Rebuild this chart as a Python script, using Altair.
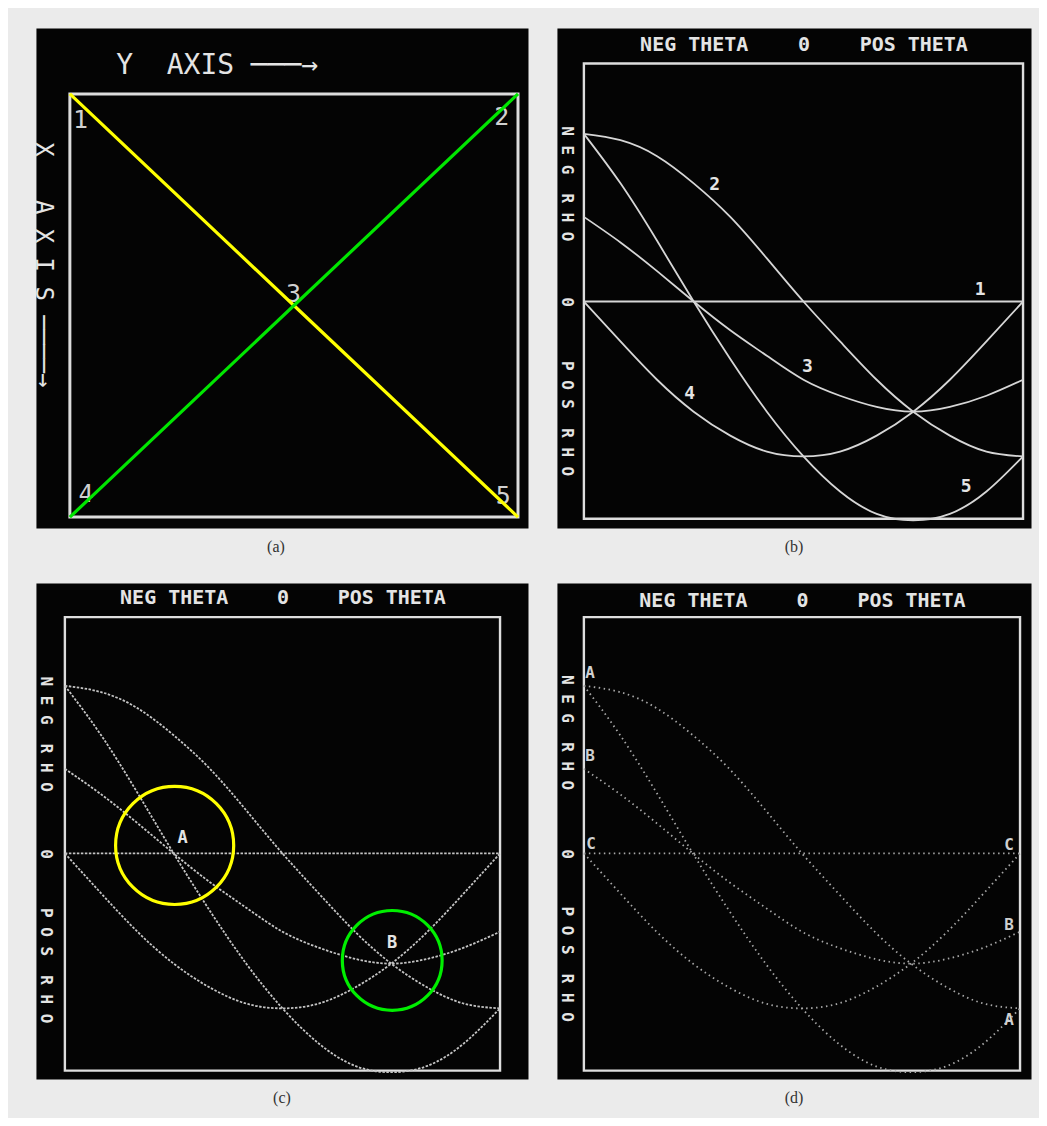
import altair as alt
import pandas as pd

# ---------------- data ----------------
# Hough-space curves (panels b, c, d): theta in degrees, rho in figure units
theta = [-90, -75, -60, -45, -30, -15, 0, 15, 30, 45, 60, 75, 90]
rho_1 = [0, 0, 0, 0, 0, 0, 0, 0, 0, 0, 0, 0, 0]
rho_2 = [-105, -101, -91, -74, -53, -27, 0, 25, 49, 69, 84, 94, 97]
rho_3 = [-53, -37, -19, 0, 18, 34, 49, 59, 66, 69, 66, 59, 49]
rho_4 = [0, 25, 49, 69, 84, 94, 97, 94, 84, 69, 49, 25, 0]
rho_5 = [-105, -74, -38, 0, 36, 69, 97, 119, 133, 137, 133, 119, 97]
curve_names = ["1", "2", "3", "4", "5"]

# Image-space points (panel a): X axis runs down, Y axis runs right
point_names = ["1", "2", "3", "4", "5"]
point_x = [0, 0, 50, 100, 100]
point_y = [0, 100, 50, 0, 100]
point_label_x = [6.1, 5.4, 47.2, 94.6, 95.0]
point_label_y = [2.4, 96.4, 49.9, 3.6, 96.7]
yellow_line = ["1", "3", "5"]
green_line = ["4", "3", "2"]

# Labels of panel b
b_text = ["1", "2", "3", "4", "5"]
b_theta = [72.4, -36.4, 1.6, -46.6, 66.7]
b_rho = [-7.5, -73, 41, 58, 116]

# Labels and highlight circles of panel c
c_text = ["A", "B"]
c_theta = [-41.3, 45.4]
c_rho = [-9.4, 56]
circle_theta = [-44.6, 45.4]
circle_rho = [-5, 67]
circle_color = ["#ffff00", "#00ee00"]
circle_size = [14000, 10000]

# Labels of panel d
d_text = ["A", "B", "C", "C", "B", "A"]
d_theta = [-87.5, -87.5, -87.0, 85.5, 85.5, 85.5]
d_rho = [-113, -61, -6, -5, 45, 104]

# Frames
frame_theta = [-90, 90]
frame_rho_b = [-149, 136]
frame_rho_cd = [-148, 136]
frame_img = [0, 100]

MONO = "DejaVu Sans Mono"
TXT = "#e4e4e4"
BG = "#ebebeb"
NB = "\u00a0"

curves = pd.DataFrame({
    "theta": theta * 5,
    "rho": rho_1 + rho_2 + rho_3 + rho_4 + rho_5,
    "curve": [n for n in curve_names for _ in theta],
})

NEG_RHO = "N E G" + NB * 2 + "R H O"
POS_RHO = "P O S" + NB * 2 + "R H O"


def theta_axis(offset):
    return alt.Axis(
        orient="top", values=[-45, 0, 45],
        labelExpr="datum.value < 0 ? 'NEG THETA' : (datum.value > 0 ? 'POS THETA' : '0')",
        title=None, domain=False, ticks=False, tickSize=0, grid=False,
        labelPadding=0, offset=-offset, labelFont=MONO, labelFontWeight="bold",
        labelFontSize=20, labelColor=TXT, labelAngle=0, labelAlign="center",
        labelBaseline="bottom", labelOverlap=False, labelFlush=False,
    )


def rho_axis(values, offset):
    return alt.Axis(
        orient="left", values=values,
        labelExpr="datum.value < 0 ? '" + NEG_RHO + "' : (datum.value > 0 ? '" + POS_RHO + "' : '0')",
        title=None, domain=False, ticks=False, tickSize=0, grid=False,
        labelPadding=0, offset=-offset, labelFont=MONO, labelFontWeight="bold",
        labelFontSize=16, labelColor=TXT, labelAngle=90, labelAlign="center",
        labelBaseline="middle", labelOverlap=False, labelFlush=False,
    )


def caption(txt, dx=0):
    return alt.TitleParams(txt, orient="bottom", anchor="middle", font="Liberation Serif",
                           fontSize=16, fontWeight="normal", color="#333333", offset=11, dx=dx)


def hough_layers(tdom, rdom, frame_rho, axis_off_top, rho_vals, axis_off_left,
                 line_color, line_width, dash, labels):
    xs = alt.Scale(domain=tdom, nice=False, zero=False)
    ys = alt.Scale(domain=rdom, nice=False, zero=False, reverse=True)
    xa = theta_axis(axis_off_top)
    ya = rho_axis(rho_vals, axis_off_left)

    frame = alt.Chart(pd.DataFrame({"theta": [frame_theta[0]], "theta_end": [frame_theta[1]],
                                    "rho": [frame_rho[0]], "rho_end": [frame_rho[1]]})).mark_rect(
        filled=False, stroke="#dedede", strokeWidth=2.4
    ).encode(
        x=alt.X("theta:Q", scale=xs, axis=xa), x2="theta_end:Q",
        y=alt.Y("rho:Q", scale=ys, axis=ya), y2="rho_end:Q",
    )
    line_kw = dict(interpolate="natural", color=line_color, strokeWidth=line_width)
    if dash:
        line_kw["strokeDash"] = dash
    lines = alt.Chart(curves).mark_line(**line_kw).encode(
        x=alt.X("theta:Q", scale=xs, axis=xa),
        y=alt.Y("rho:Q", scale=ys, axis=ya),
        detail="curve:N",
    )
    layers = [frame, lines]
    for df, kw, enc in labels:
        layers.append(alt.Chart(df).mark_text(**kw).encode(
            x=alt.X("theta:Q", scale=xs, axis=xa),
            y=alt.Y("rho:Q", scale=ys, axis=ya),
            **enc,
        ))
    return layers


# ---------------- panel (a): image space ----------------
xs_a = alt.Scale(domain=[-7.57, 102.23], nice=False, zero=False)
ys_a = alt.Scale(domain=[-15.57, 102.59], nice=False, zero=False, reverse=True)
xa_a = alt.Axis(orient="top", labels=False, ticks=False, domain=False, grid=False,
                title="Y" + NB * 2 + "AXIS" + NB + "───→", titleFont=MONO, titleFontSize=28,
                titleFontWeight="normal",
                titleColor=TXT, titleX=80, titleY=38, titleAlign="left", titleBaseline="middle",
                titleAngle=0, titleAnchor="start")
ya_a = alt.Axis(orient="left", labels=False, ticks=False, domain=False, grid=False,
                title="X" + NB * 3 + "A X I S" + NB + "────→", titleFont=MONO, titleFontSize=24,
                titleFontWeight="normal",
                titleColor=TXT, titleX=7, titleY=114, titleAlign="left", titleBaseline="middle",
                titleAngle=90, titleAnchor="start")

frame_a = alt.Chart(pd.DataFrame({"Y": [frame_img[0]], "Y_end": [frame_img[1]],
                                  "X": [frame_img[0]], "X_end": [frame_img[1]]})).mark_rect(
    filled=False, stroke="#dcdcdc", strokeWidth=3
).encode(
    x=alt.X("Y:Q", scale=xs_a, axis=xa_a), x2="Y_end:Q",
    y=alt.Y("X:Q", scale=ys_a, axis=ya_a), y2="X_end:Q",
)
pts = dict(zip(point_names, zip(point_x, point_y)))
diag = pd.DataFrame({
    "X": [pts[p][0] for p in yellow_line] + [pts[p][0] for p in green_line],
    "Y": [pts[p][1] for p in yellow_line] + [pts[p][1] for p in green_line],
    "line": ["yellow"] * 3 + ["green"] * 3,
    "order": [0, 1, 2, 0, 1, 2],
})
lbl_a = alt.Chart(pd.DataFrame({"X": point_label_x, "Y": point_label_y, "label": point_names})).mark_text(
    font=MONO, fontSize=25, color="#d0d0d0", fontWeight="normal"
).encode(
    x=alt.X("Y:Q", scale=xs_a, axis=xa_a), y=alt.Y("X:Q", scale=ys_a, axis=ya_a), text="label:N"
)
diag_lines = alt.Chart(diag).mark_line(strokeWidth=3.2).encode(
    x=alt.X("Y:Q", scale=xs_a, axis=xa_a), y=alt.Y("X:Q", scale=ys_a, axis=ya_a),
    color=alt.Color("line:N", scale=alt.Scale(domain=["yellow", "green"], range=["#ffff00", "#00e600"]),
                    legend=None),
    order="order:Q",
)
panel_a = alt.layer(frame_a, lbl_a, diag_lines).properties(width=493, height=501, title=caption("(a)", -6))

# ---------------- panel (b) ----------------
lab_b = pd.DataFrame({"theta": b_theta, "rho": b_rho, "label": b_text})
panel_b = alt.layer(*hough_layers(
    [-101.05, 93.27], [-171.25, 141.875], frame_rho_b, 27, [-74, 0, 73], 10,
    "#d6d6d6", 1.8, None,
    [(lab_b, dict(font=MONO, fontWeight="bold", fontSize=18, color=TXT), dict(text="label:N"))],
)).properties(width=475, height=501, title=caption("(b)"))

# ---------------- panel (c) ----------------
lab_c = pd.DataFrame({"theta": c_theta, "rho": c_rho, "label": c_text})
circ_c = pd.DataFrame({"theta": circle_theta, "rho": circle_rho, "color": circle_color, "size": circle_size})
layers_c = hough_layers(
    [-101.97, 101.56], [-169.375, 141.25], frame_rho_cd, 25, [-75, 0, 70], 10,
    "#c4c4c4", 1.8, [2.5, 1.5],
    [(lab_c, dict(font=MONO, fontWeight="bold", fontSize=17, color=TXT), dict(text="label:N"))],
)
xs_c = alt.Scale(domain=[-101.97, 101.56], nice=False, zero=False)
ys_c = alt.Scale(domain=[-169.375, 141.25], nice=False, zero=False, reverse=True)
circles = alt.Chart(circ_c).mark_point(shape="circle", filled=False, strokeWidth=3.2, opacity=1).encode(
    x=alt.X("theta:Q", scale=xs_c, axis=theta_axis(25)),
    y=alt.Y("rho:Q", scale=ys_c, axis=rho_axis([-75, 0, 70], 10)),
    color=alt.Color("color:N", scale=None),
    size=alt.Size("size:Q", scale=None),
)
panel_c = alt.layer(*layers_c, circles).properties(width=493, height=497, title=caption("(c)"))

# ---------------- panel (d) ----------------
lab_d = pd.DataFrame({"theta": d_theta, "rho": d_rho, "label": d_text})
panel_d = alt.layer(*hough_layers(
    [-101.12, 94.53], [-169.375, 141.25], frame_rho_cd, 28, [-76, 0, 69], 10,
    "#a8a8a8", 1.8, [1.5, 3.5],
    [(lab_d, dict(font=MONO, fontWeight="bold", fontSize=16, color="#d0d0d0"), dict(text="label:N"))],
)).properties(width=475, height=497, title=caption("(d)"))

chart = alt.concat(
    panel_a, panel_b, panel_c, panel_d,
    columns=2, spacing={"row": 55, "column": 29}, bounds="flush",
).properties(
    padding={"left": 22, "top": 18, "right": 7, "bottom": 10},
    background=BG,
).configure_view(fill="#040404", stroke="transparent")

chart.save("out.html", embed_options={"renderer": "svg", "actions": False})
